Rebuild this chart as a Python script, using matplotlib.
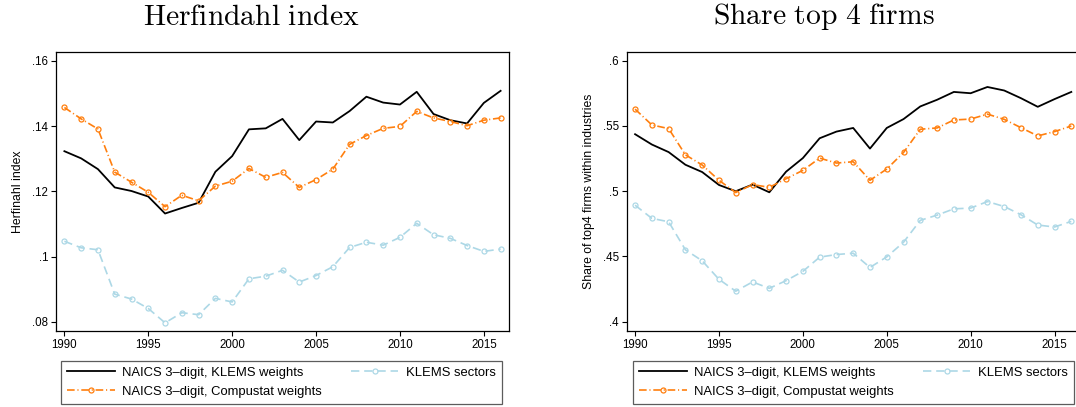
import numpy as np
import matplotlib
matplotlib.use('Agg')
import matplotlib.pyplot as plt

# ---------------------------------------------------
# data
# ---------------------------------------------------
years = list(range(1990, 2017))

hhi_klems_w = [0.1323, 0.1301, 0.1268, 0.1212, 0.1201, 0.1184, 0.1132, 0.1149, 0.1165,
               0.1260, 0.1308, 0.1390, 0.1393, 0.1422, 0.1357, 0.1414, 0.1411, 0.1446,
               0.1490, 0.1472, 0.1466, 0.1505, 0.1437, 0.1418, 0.1408, 0.1471, 0.1508]
hhi_compustat_w = [0.1457, 0.1422, 0.1391, 0.1259, 0.1228, 0.1197, 0.1153, 0.1188, 0.1171,
                   0.1216, 0.1231, 0.1270, 0.1243, 0.1258, 0.1212, 0.1236, 0.1268, 0.1344,
                   0.1371, 0.1393, 0.1399, 0.1445, 0.1425, 0.1414, 0.1401, 0.1418, 0.1425]
hhi_klems_sect = [0.1047, 0.1027, 0.1021, 0.0885, 0.0870, 0.0841, 0.0797, 0.0828, 0.0822,
                  0.0872, 0.0861, 0.0932, 0.0940, 0.0958, 0.0922, 0.0942, 0.0969, 0.1028,
                  0.1044, 0.1035, 0.1059, 0.1102, 0.1067, 0.1056, 0.1034, 0.1016, 0.1023]

top4_klems_w = [0.5437, 0.5358, 0.5300, 0.5203, 0.5147, 0.5048, 0.5000, 0.5051, 0.4992,
                0.5150, 0.5254, 0.5406, 0.5457, 0.5485, 0.5327, 0.5485, 0.5553, 0.5650,
                0.5701, 0.5761, 0.5751, 0.5799, 0.5772, 0.5713, 0.5647, 0.5706, 0.5761]
top4_compustat_w = [0.5629, 0.5508, 0.5480, 0.5279, 0.5201, 0.5084, 0.4990, 0.5051, 0.5030,
                    0.5096, 0.5160, 0.5254, 0.5216, 0.5226, 0.5084, 0.5170, 0.5297, 0.5475,
                    0.5485, 0.5546, 0.5553, 0.5591, 0.5551, 0.5487, 0.5424, 0.5457, 0.5500]
top4_klems_sect = [0.4893, 0.4792, 0.4766, 0.4551, 0.4467, 0.4325, 0.4234, 0.4305, 0.4256,
                   0.4315, 0.4386, 0.4495, 0.4515, 0.4525, 0.4416, 0.4497, 0.4609, 0.4777,
                   0.4817, 0.4865, 0.4871, 0.4921, 0.4883, 0.4820, 0.4741, 0.4726, 0.4769]

series_labels = ['NAICS 3\u2013digit, KLEMS weights',
                 'NAICS 3\u2013digit, Compustat weights',
                 'KLEMS sectors']

xticks = [1990, 1995, 2000, 2005, 2010, 2015]
hhi_ticks = [0.08, 0.10, 0.12, 0.14, 0.16]
hhi_ticklabels = ['.08', '.1', '.12', '.14', '.16']
top4_ticks = [0.40, 0.45, 0.50, 0.55, 0.60]
top4_ticklabels = ['.4', '.45', '.5', '.55', '.6']

# ---------------------------------------------------
# style
# ---------------------------------------------------
plt.rcParams['font.family'] = ['Liberation Sans', 'DejaVu Sans']
plt.rcParams['mathtext.fontset'] = 'cm'
plt.rcParams['lines.scale_dashes'] = False

ORANGE = '#ff7f0e'
LBLUE = '#add8e6'

W, H = 1076, 407
fig = plt.figure(figsize=(W / 100, H / 100), dpi=100)


def px_box(x0, y0, x1, y1):
    # pixel box (top-left origin) -> figure fraction rect
    return [x0 / W, 1 - y1 / H, (x1 - x0) / W, (y1 - y0) / H]


ax1 = fig.add_axes(px_box(56, 52, 509, 331))
ax2 = fig.add_axes(px_box(626.7, 52, 1079.7, 331))


def draw(ax, a, b, c, ticks, ticklabels, ylim, ylabel):
    l1, = ax.plot(years, a, color='black', lw=1.3)
    l2, = ax.plot(years, b, color=ORANGE, lw=1.2, dashes=(5.5, 2, 0.8, 2),
                  marker='o', ms=3.6, mfc='none', mec=ORANGE, mew=0.9)
    l3, = ax.plot(years, c, color=LBLUE, lw=1.2, dashes=(6, 3.5),
                  marker='o', ms=3.6, mfc='none', mec=LBLUE, mew=0.9)
    ax.set_xlim(1989.5, 2016.5)
    ax.set_ylim(*ylim)
    ax.set_xticks(xticks)
    ax.set_yticks(ticks)
    ax.set_yticklabels(ticklabels)
    ax.tick_params(direction='out', length=3.5, width=0.8, labelsize=8.3, pad=2)
    ax.set_ylabel(ylabel, fontsize=8.8, labelpad=6)
    for s in ax.spines.values():
        s.set_linewidth(0.9)
    return [l1, l2, l3]


handles = draw(ax1, hhi_klems_w, hhi_compustat_w, hhi_klems_sect,
               hhi_ticks, hhi_ticklabels, (0.0772, 0.1627), 'Herfinahl index')
draw(ax2, top4_klems_w, top4_compustat_w, top4_klems_sect,
     top4_ticks, top4_ticklabels, (0.3929, 0.6067), 'Share of top4 firms within industries')

# titles in a Computer Modern look
fig.text(251 / W, 1 - 17 / H, r'$\mathrm{Herfindahl\ index}$', fontsize=21.3,
         ha='center', va='center')
fig.text(824 / W, 1 - 17 / H, r'$\mathrm{Share\ top\ 4\ firms}$', fontsize=21.3,
         ha='center', va='center')

# legends under each panel
for xl in (61, 633):
    leg = fig.legend(handles, series_labels, ncol=2, loc='upper left',
                     bbox_to_anchor=(xl / W, 1 - 361 / H), fontsize=9.4,
                     frameon=True, fancybox=False, handlelength=3.65,
                     handletextpad=0.6, columnspacing=2.2, labelspacing=0.5,
                     borderpad=0.45, borderaxespad=0)
    leg.get_frame().set_edgecolor('#333333')
    leg.get_frame().set_linewidth(0.9)

fig.savefig('out.png', dpi=100)
